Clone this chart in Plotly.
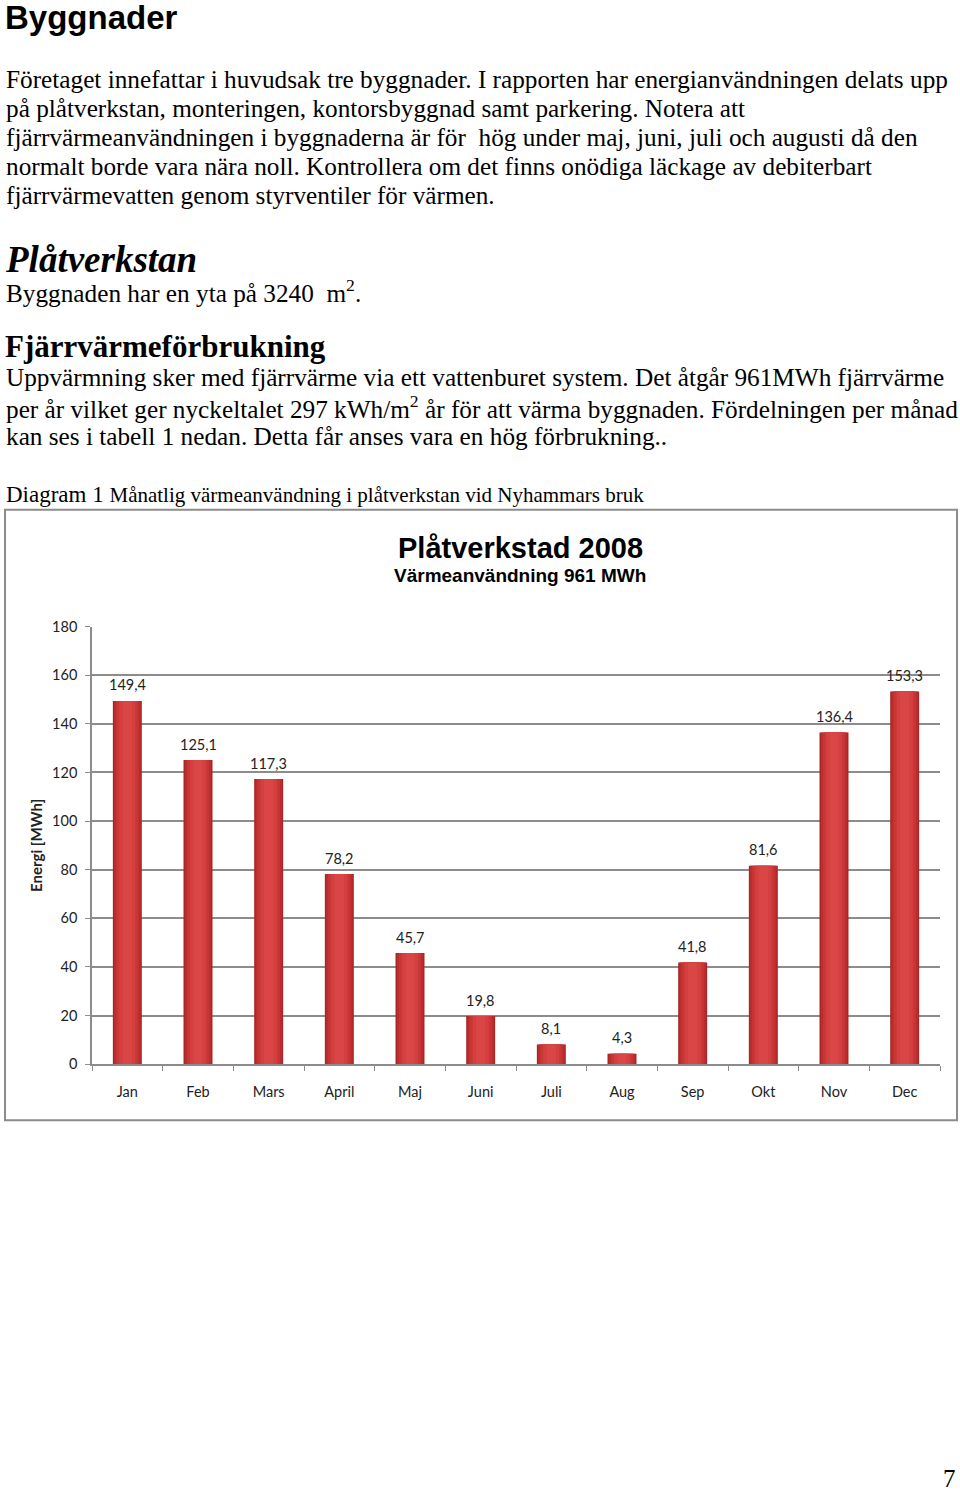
import plotly.graph_objects as go

# ---------------- data ----------------
months = ["Jan", "Feb", "Mars", "April", "Maj", "Juni", "Juli", "Aug", "Sep", "Okt", "Nov", "Dec"]
energy_mwh = [149.4, 125.1, 117.3, 78.2, 45.7, 19.8, 8.1, 4.3, 41.8, 81.6, 136.4, 153.3]
y_ticks = [0, 20, 40, 60, 80, 100, 120, 140, 160, 180]

W, H = 960, 1491
# the capture is observed to place page row y at 8 + 0.9893*y; compensate
Y_OFF, Y_SCALE = 8.0, 0.9893


def px_x(x):
    return x / W


def px_y(y):
    return 1 - ((y - Y_OFF) / Y_SCALE) / H


SERIF = "Liberation Serif, Times New Roman, serif"
SANS = "Liberation Sans, Arial, sans-serif"
CHART_FONT = "Lato, Open Sans, sans-serif"

fig = go.Figure()
# layered bars to imitate the shaded cylinder look of the original
layers = [(0.41, "#A82626"), (0.37, "#BC2E2E"), (0.31, "#CA3636"), (0.23, "#D43F3F"), (0.13, "#DA4646")]
for i, (w, c) in enumerate(layers):
    fig.add_trace(go.Bar(
        x=months, y=energy_mwh, width=w,
        marker=dict(color=c, line=dict(width=0)),
        hoverinfo="x+y" if i == 0 else "skip",
    ))

labels = [f"{v:.1f}".replace(".", ",") for v in energy_mwh]
annotations = []
for m, v, t in zip(months, energy_mwh, labels):
    annotations.append(dict(x=m, y=v, xref="x", yref="y", text=t, showarrow=False,
                            yshift=16, font=dict(family=CHART_FONT, size=14.5, color="#222")))

# page text
body = [
    (78, "Företaget innefattar i huvudsak tre byggnader. I rapporten har energianvändningen delats upp"),
    (107, "på plåtverkstan, monteringen, kontorsbyggnad samt parkering. Notera att"),
    (136, "fjärrvärmeanvändningen i byggnaderna är för  hög under maj, juni, juli och augusti då den"),
    (165, "normalt borde vara nära noll. Kontrollera om det finns onödiga läckage av debiterbart"),
    (194, "fjärrvärmevatten genom styrventiler för värmen."),
    (290, "Byggnaden har en yta på 3240  m<sup>2</sup>."),
    (376, "Uppvärmning sker med fjärrvärme via ett vattenburet system. Det åtgår 961MWh fjärrvärme"),
    (406, "per år vilket ger nyckeltalet 297 kWh/m<sup>2</sup> år för att värma byggnaden. Fördelningen per månad"),
    (435, "kan ses i tabell 1 nedan. Detta får anses vara en hög förbrukning.."),
]
for yy, t in body:
    annotations.append(dict(x=px_x(4), y=px_y(yy), xref="paper", yref="paper", text=t,
                            showarrow=False, xanchor="left", yanchor="middle",
                            font=dict(family=SERIF, size=25.25, color="#000")))

heads = [
    dict(x=px_x(3), y=px_y(17), text="<b>Byggnader</b>", font=dict(family=SANS, size=33, color="#000")),
    dict(x=px_x(3), y=px_y(259), text="<b><i>Plåtverkstan</i></b>", font=dict(family=SERIF, size=37, color="#000")),
    dict(x=px_x(3), y=px_y(346), text="<b>Fjärrvärmeförbrukning</b>", font=dict(family=SERIF, size=31, color="#000")),
    dict(x=px_x(4), y=px_y(494),
         text="Diagram 1 <span style='font-size:21px'>Månatlig värmeanvändning i plåtverkstan vid Nyhammars bruk</span>",
         font=dict(family=SERIF, size=23, color="#000")),
]
for a in heads:
    a.update(xref="paper", yref="paper", showarrow=False, xanchor="left", yanchor="middle")
annotations += heads

annotations += [
    dict(x=px_x(520), y=px_y(547), xref="paper", yref="paper", showarrow=False,
         xanchor="center", yanchor="middle", text="<b>Plåtverkstad 2008</b>",
         font=dict(family="Liberation Sans Narrow, Liberation Sans, Arial", size=29, color="#000")),
    dict(x=px_x(520), y=px_y(575), xref="paper", yref="paper", showarrow=False,
         xanchor="center", yanchor="middle", text="<b>Värmeanvändning 961 MWh</b>",
         font=dict(family="Liberation Sans Narrow, Liberation Sans, Arial", size=19, color="#000")),
    dict(x=px_x(958), y=px_y(1479), xref="paper", yref="paper", showarrow=False,
         xanchor="right", yanchor="middle", text="7",
         font=dict(family=SERIF, size=25, color="#000")),
]

fig.update_layout(
    width=W, height=H,
    margin=dict(l=0, r=0, t=0, b=0),
    paper_bgcolor="white", plot_bgcolor="white",
    showlegend=False,
    barmode="overlay",
    annotations=annotations,
    shapes=[dict(type="rect", xref="paper", yref="paper",
                 x0=px_x(5), x1=px_x(957), y0=px_y(1120), y1=px_y(509),
                 line=dict(color="#8c8c8c", width=2), fillcolor="rgba(0,0,0,0)", layer="below")],
    xaxis=dict(domain=[px_x(92), px_x(940)], showgrid=False, showline=True,
               linecolor="#8c8c8c", linewidth=1.5, ticks="outside", ticklen=5,
               tickcolor="#8c8c8c", tickson="boundaries",
               tickfont=dict(family=CHART_FONT, size=14.5, color="#222"),
               ticklabelstandoff=14, fixedrange=True),
    yaxis=dict(domain=[px_y(1064), px_y(626)], range=[0, 180], tickvals=y_ticks,
               showgrid=True, gridcolor="#8c8c8c", gridwidth=1.5,
               showline=True, linecolor="#8c8c8c", linewidth=1.5,
               ticks="outside", ticklen=5, tickcolor="#8c8c8c",
               tickfont=dict(family=CHART_FONT, size=14.5, color="#222"),
               ticklabelstandoff=5,
               title=dict(text="<b>Energi [MWh]</b>", standoff=6,
                          font=dict(family=CHART_FONT, size=15, color="#222")),
               zeroline=False, fixedrange=True),
)

fig.write_html("out.html", config={"displayModeBar": False},
               post_script="document.body.style.margin='0';document.body.style.overflow='hidden';")
